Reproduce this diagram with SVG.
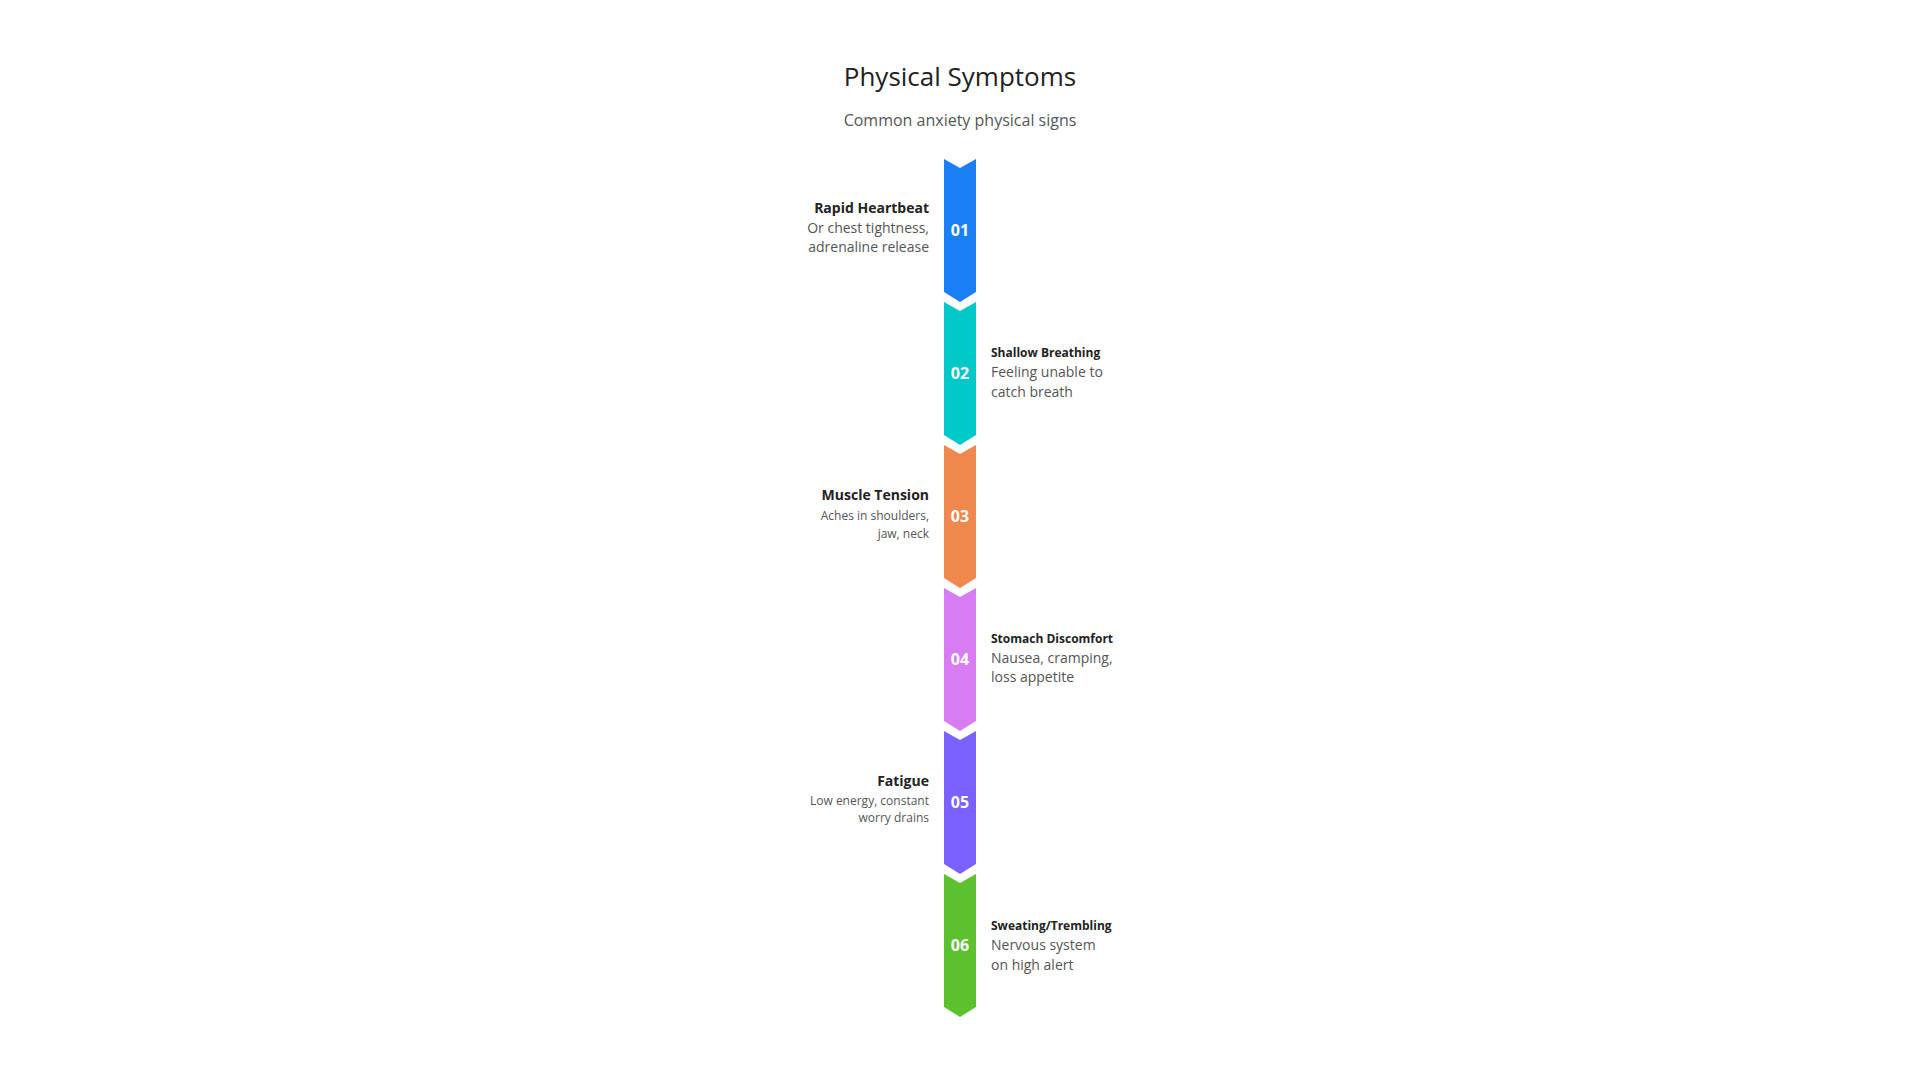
<svg xmlns="http://www.w3.org/2000/svg" width="1920" height="1080" viewBox="0 0 1920 1080">
<style>
text{font-family:"Open Sans","Noto Sans",sans-serif}
.t{font-size:26px;fill:#222;text-anchor:middle}
.s{font-size:16px;fill:#555;text-anchor:middle}
.n{font-size:16px;font-weight:bold;fill:#fff;text-anchor:middle}
.h{font-size:14px;font-weight:bold;fill:#222}
.hs{font-size:12px;font-weight:bold;fill:#222}
.d{font-size:14px;fill:#555}
.ds{font-size:12px;fill:#555}
.l{text-anchor:end}
</style>
<defs><path id="chev" d="M944,0 L960,9 L976,0 L976,133 L960,143 L944,133 Z"/></defs>
<rect width="1920" height="1080" fill="#fff"/>
<text class="t" x="960" y="86">Physical Symptoms</text>
<text class="s" x="960" y="126">Common anxiety physical signs</text>
<g id="step1"><use href="#chev" y="159" fill="#1A7FF5"/><text class="n" x="960" y="236">01</text>
<text class="h l" x="929" y="213">Rapid Heartbeat</text><text class="d l" x="929" y="233">Or chest tightness,</text><text class="d l" x="929" y="252">adrenaline release</text></g>
<g id="step2"><use href="#chev" y="302" fill="#00C8C8"/><text class="n" x="960" y="379">02</text>
<text class="hs" x="991" y="357">Shallow Breathing</text><text class="d" x="991" y="377">Feeling unable to</text><text class="d" x="991" y="397">catch breath</text></g>
<g id="step3"><use href="#chev" y="445" fill="#F0884D"/><text class="n" x="960" y="522">03</text>
<text class="h l" x="929" y="500">Muscle Tension</text><text class="ds l" x="929" y="520">Aches in shoulders,</text><text class="ds l" x="929" y="538">jaw, neck</text></g>
<g id="step4"><use href="#chev" y="588" fill="#D77CF2"/><text class="n" x="960" y="665">04</text>
<text class="hs" x="991" y="643">Stomach Discomfort</text><text class="d" x="991" y="663">Nausea, cramping,</text><text class="d" x="991" y="682">loss appetite</text></g>
<g id="step5"><use href="#chev" y="731" fill="#7B61FF"/><text class="n" x="960" y="808">05</text>
<text class="h l" x="929" y="786">Fatigue</text><text class="ds l" x="929" y="805">Low energy, constant</text><text class="ds l" x="929" y="822">worry drains</text></g>
<g id="step6"><use href="#chev" y="874" fill="#5DC12E"/><text class="n" x="960" y="951">06</text>
<text class="hs" x="991" y="930">Sweating/Trembling</text><text class="d" x="991" y="950">Nervous system</text><text class="d" x="991" y="970">on high alert</text></g>
<g id="connectors"></g>
</svg>
